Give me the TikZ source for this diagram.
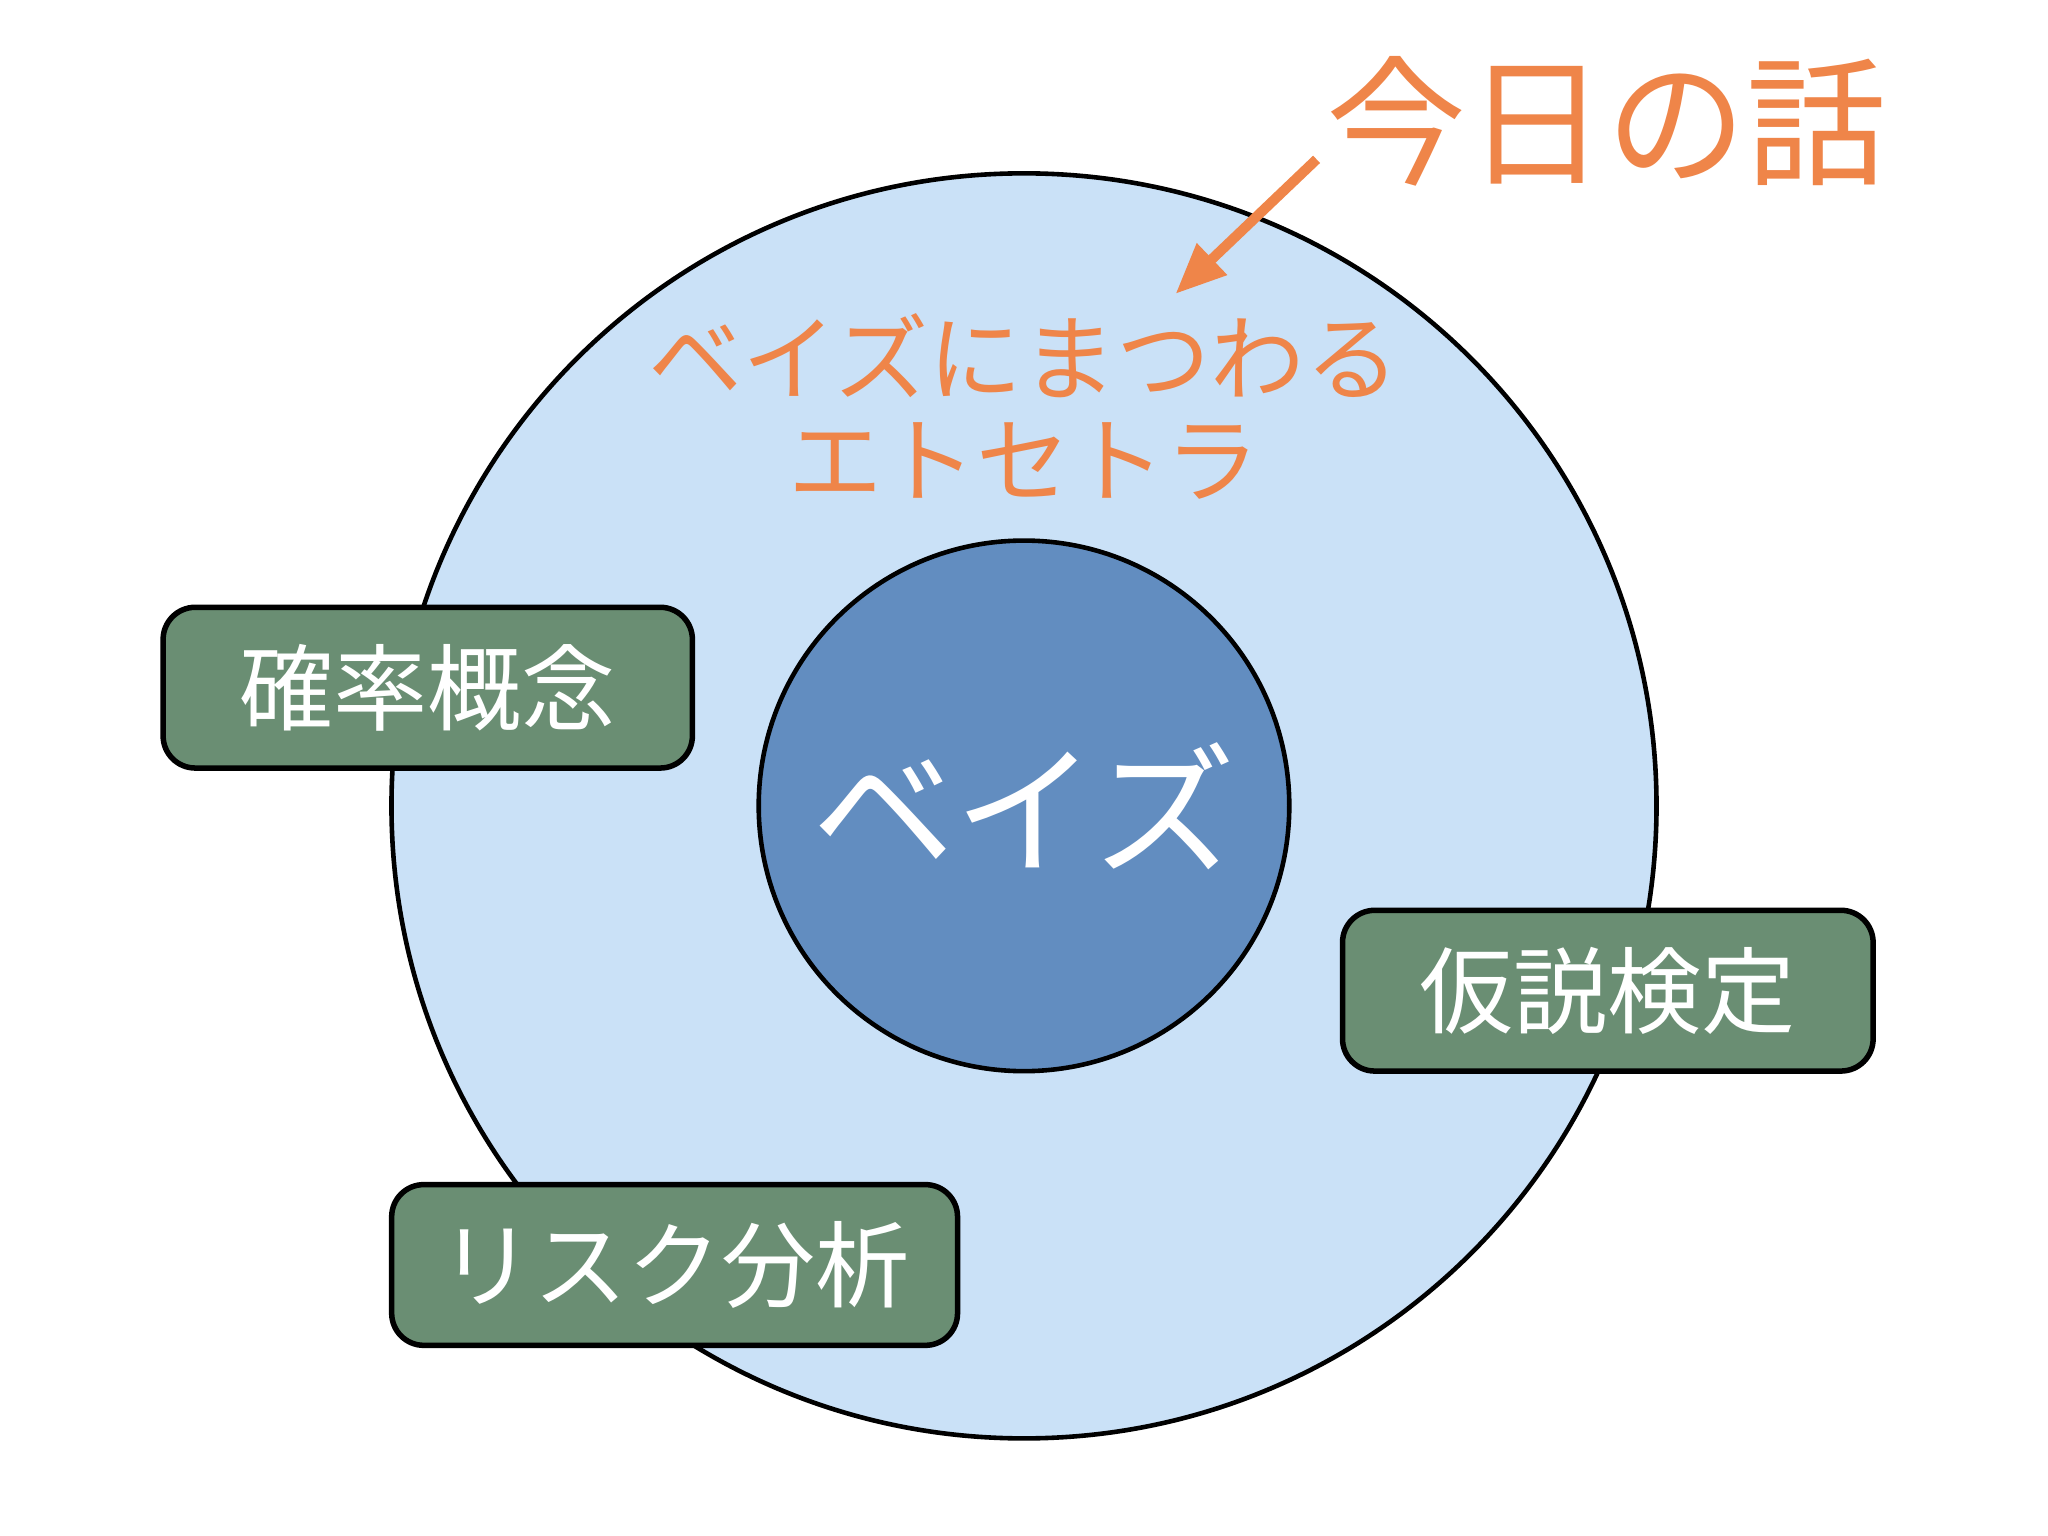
\documentclass[tikz,border=0pt]{standalone}
\usepackage{fontspec}
\newfontfamily\cjk{Noto Sans CJK JP}
\usetikzlibrary{arrows.meta}
\definecolor{outer}{HTML}{CAE1F7}
\definecolor{inner}{HTML}{628DC0}
\definecolor{boxg}{HTML}{6A8E73}
\definecolor{orng}{HTML}{EF8549}
\tikzset{px/.style={x=0.01cm,y=-0.01cm},
  topic/.style={draw=black,line width=1.2pt,fill=boxg,rounded corners=7pt,text=white,font=\cjk\fontsize{20.5}{24}\selectfont,inner sep=0pt},
  orangetext/.style={text=orng,font=\cjk\fontsize{20.5}{24}\selectfont}}
\begin{document}
\begin{tikzpicture}[px]
\useasboundingbox (0,0) rectangle (1568,1176);
\fill[white] (0,0) rectangle (1568,1176);
\node[circle,draw=black,line width=1pt,fill=outer,minimum size=9.68cm,inner sep=0pt] (big) at (784,617) {};
\node[circle,draw=black,line width=1pt,fill=inner,minimum size=4.06cm,inner sep=0pt,text=white,font=\cjk\fontsize{31}{36}\selectfont] (bayes) at (784,617) {ベイズ};
\node[orangetext] (t1) at (784,272) {ベイズにまつわる};
\node[orangetext] (t2) at (784,353) {エトセトラ};
\node[text=orng,font=\cjk\fontsize{30.5}{36}\selectfont] (today) at (1230,93) {今日の話};
\coordinate (as) at (1008,122);
\coordinate (ae) at (900,225);
\draw[orng,line width=2.2pt,-{Triangle[length=11pt,width=9pt]}] (as) -- (ae);
\node[topic,minimum width=4.05cm,minimum height=1.23cm] (b1) at (327.5,526.5) {確率概念};
\node[topic,minimum width=4.06cm,minimum height=1.23cm] (b2) at (1231,758.5) {仮説検定};
\node[topic,minimum width=4.33cm,minimum height=1.23cm] (b3) at (516.5,968.5) {リスク分析};
\end{tikzpicture}
\end{document}
